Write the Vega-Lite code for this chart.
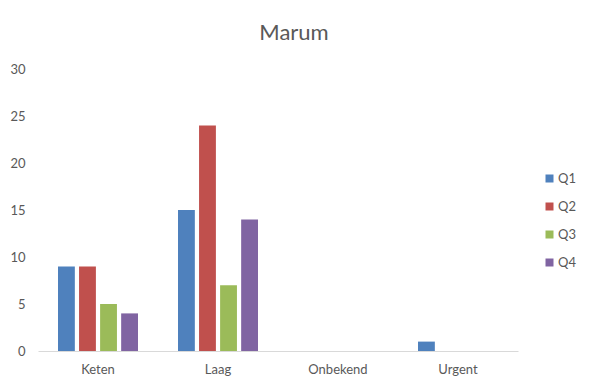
{
  "$schema": "https://vega.github.io/schema/vega-lite/v6.json",
  "width": 480,
  "height": 282,
  "autosize": {"type": "none"},
  "padding": {"left": 38, "top": 69, "right": 71, "bottom": 31},
  "background": "white",
  "title": {"text": "Marum", "fontSize": 22, "font": "Lato", "fontWeight": "normal", "color": "#595959", "anchor": "middle", "dx": 16, "offset": 18},
  "data": {"values": [
    {"cat": "Keten", "q": "Q1", "v": 9},
    {"cat": "Keten", "q": "Q2", "v": 9},
    {"cat": "Keten", "q": "Q3", "v": 5},
    {"cat": "Keten", "q": "Q4", "v": 4},
    {"cat": "Laag", "q": "Q1", "v": 15},
    {"cat": "Laag", "q": "Q2", "v": 24},
    {"cat": "Laag", "q": "Q3", "v": 7},
    {"cat": "Laag", "q": "Q4", "v": 14},
    {"cat": "Urgent", "q": "Q1", "v": 1}
  ]},
  "mark": {"type": "bar"},
  "encoding": {
    "x": {"field": "cat", "type": "nominal", "scale": {"domain": ["Keten", "Laag", "Onbekend", "Urgent"], "paddingInner": 0, "paddingOuter": 0},
      "axis": {"title": null, "labelAngle": 0, "ticks": false, "domainColor": "#d9d9d9", "labelColor": "#595959", "labelFont": "Lato", "labelFontSize": 13, "labelPadding": 12}},
    "xOffset": {"field": "q", "type": "nominal", "scale": {"paddingInner": 0.2, "paddingOuter": 0.95}},
    "y": {"field": "v", "type": "quantitative", "scale": {"domain": [0, 30]},
      "axis": {"title": null, "values": [0, 5, 10, 15, 20, 25, 30], "grid": false, "domain": false, "ticks": false, "labelColor": "#595959", "labelFont": "Lato", "labelFontSize": 13, "labelPadding": 13}},
    "color": {"field": "q", "type": "nominal", "scale": {"domain": ["Q1", "Q2", "Q3", "Q4"], "range": ["#4F81BD", "#C0504D", "#9BBB59", "#8064A2"]},
      "legend": {"title": null, "orient": "none", "legendX": 505, "legendY": 103, "symbolType": "square", "symbolSize": 64, "symbolStrokeWidth": 0, "rowPadding": 14, "labelFont": "Lato", "labelFontSize": 13, "labelColor": "#595959", "labelOffset": 2}}
  },
  "config": {"view": {"stroke": null}}
}
